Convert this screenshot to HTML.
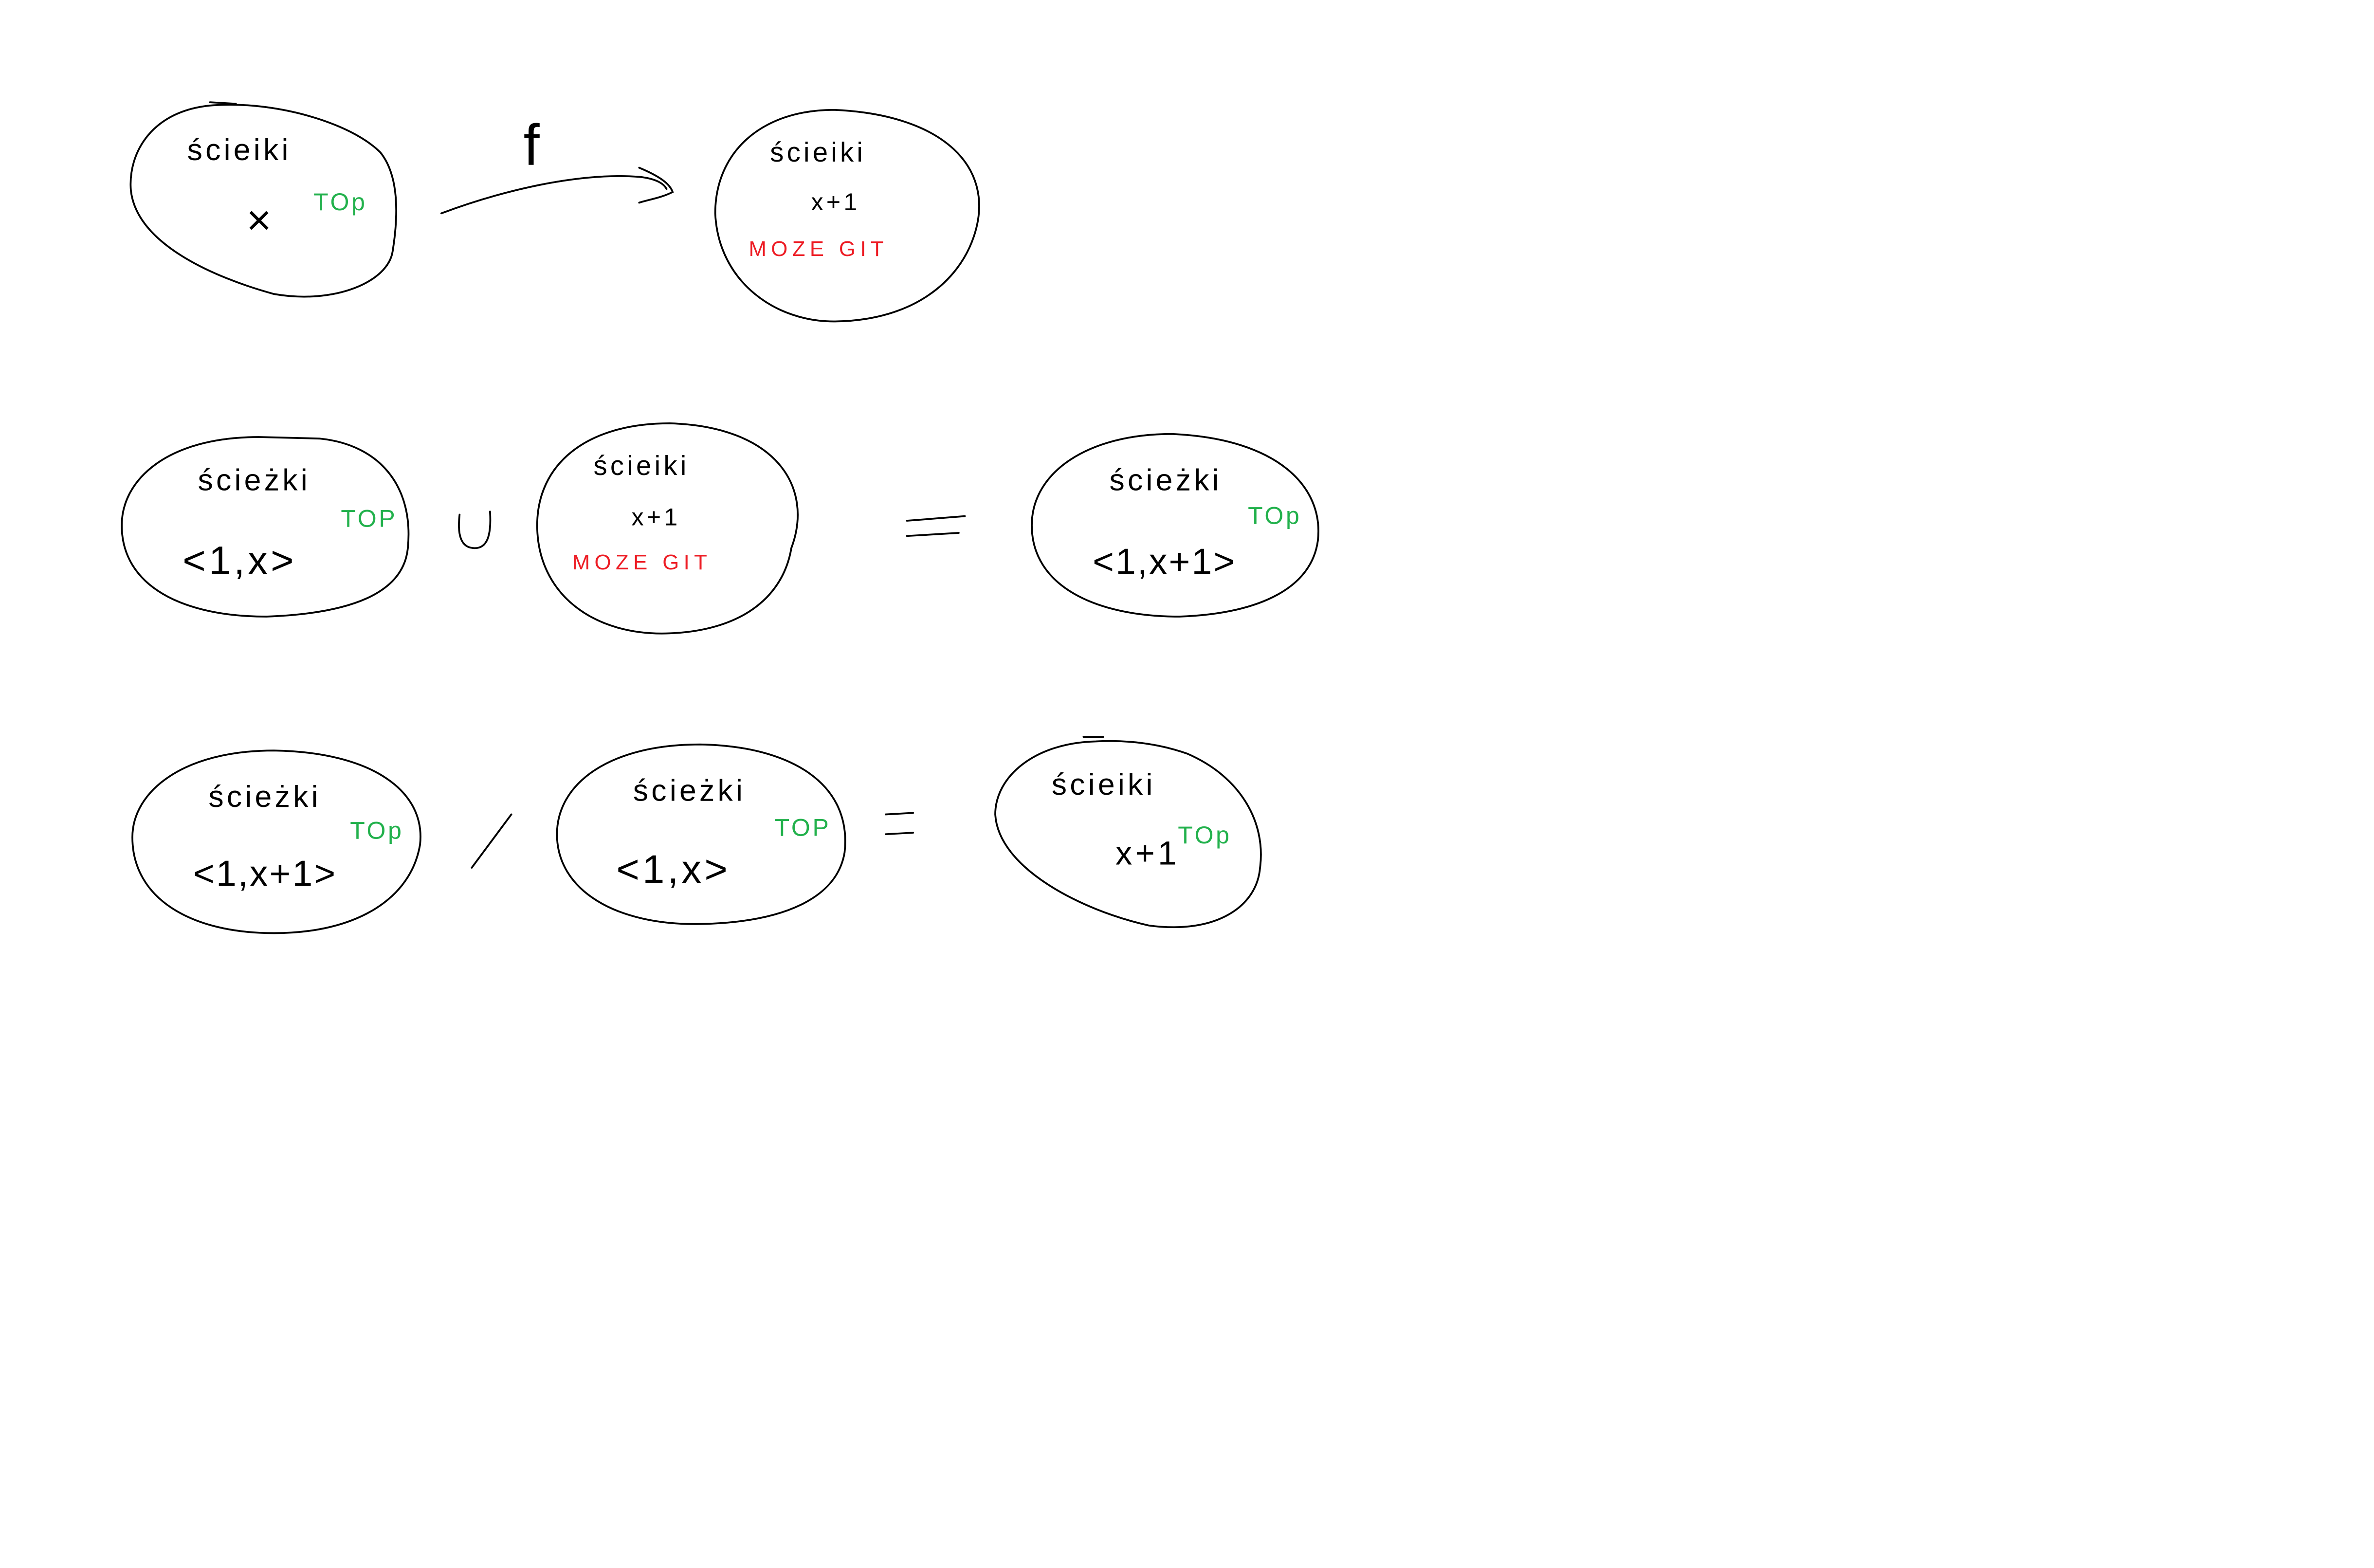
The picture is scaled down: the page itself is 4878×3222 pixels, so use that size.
<!DOCTYPE html>
<html><head><meta charset="utf-8"><style>
html,body{margin:0;padding:0;background:#fff;}
svg{display:block;}
text{font-family:"Liberation Sans",sans-serif;font-weight:normal;}
.k{fill:#000;font-size:20px;letter-spacing:2px;}
.g{fill:#22b14c;font-size:16px;letter-spacing:1.5px;}
.r{fill:#ed1c24;font-size:14px;letter-spacing:3px;}
</style></head><body>
<svg width="4878" height="3222" viewBox="0 0 1560 1030" xmlns="http://www.w3.org/2000/svg">
<g fill="none" stroke="#000" stroke-width="1.2" stroke-linecap="round">
<path d="M140,69 C100,72 84,100 86,125 C90,160 140,182 180,193 C220,200 255,185 258,165 C262,140 262,115 250,100 C230,80 180,66 140,69 Z"/>
<path d="M138,67 L155,68"/>
<path d="M290,140 C330,125 380,113 420,116 C430,117 436,120 438,124"/>
<path d="M420,110 C432,115 440,120 442,126 C434,130 426,131 420,133"/>
<path d="M548,72 C500,72 470,100 470,140 C472,185 510,212 550,211 C600,210 630,185 640,155 C655,110 620,75 548,72 Z"/>
<path d="M170,287 C110,287 80,315 80,345 C80,385 120,405 175,405 C230,403 265,390 268,360 C272,320 250,292 210,288 Z"/>
<path d="M302,338 C300,355 305,360 312,360 C320,360 323,352 322,336"/>
<path d="M440,278 C385,278 353,305 353,345 C353,390 390,418 440,416 C490,414 515,390 520,360 C535,320 510,280 440,278 Z"/>
<path d="M596,342 L634,339 M596,352 L630,350"/>
<path d="M770,285 C715,285 678,310 678,345 C678,385 720,405 775,405 C830,403 862,385 866,355 C870,320 840,288 770,285 Z"/>
<path d="M180,493 C120,493 87,520 87,550 C87,590 125,613 180,613 C235,613 270,590 276,555 C280,520 245,494 180,493 Z"/>
<path d="M310,570 L336,535"/>
<path d="M460,489 C400,489 366,515 366,548 C366,585 405,608 460,607 C515,606 550,590 555,560 C560,515 520,490 460,489 Z"/>
<path d="M582,535 L600,534 M582,548 L600,547"/>
<path d="M720,487 C680,488 654,510 654,535 C656,570 710,598 755,608 C800,614 826,595 828,570 C832,540 815,510 780,495 C760,488 740,486 720,487 Z"/>
<path d="M712,484 L725,484"/>
</g>
<text class="k" x="123" y="105">ścieiki</text>
<text class="k" x="162" y="154" style="font-size:28px">×</text>
<text class="g" x="206" y="138">TOp</text>
<text class="k" x="344" y="108" style="font-size:38px">f</text>
<text class="k" x="506" y="106" style="font-size:18px">ścieiki</text>
<text class="k" x="533" y="138" style="font-size:16px">x+1</text>
<text class="r" x="492" y="168">MOZE GIT</text>
<text class="k" x="130" y="322">ścieżki</text>
<text class="g" x="224" y="346">TOP</text>
<text class="k" x="120" y="377" style="font-size:26px">&lt;1,x&gt;</text>
<text class="k" x="390" y="312" style="font-size:18px">ścieiki</text>
<text class="k" x="415" y="345" style="font-size:16px">x+1</text>
<text class="r" x="376" y="374">MOZE GIT</text>
<text class="k" x="729" y="322">ścieżki</text>
<text class="g" x="820" y="344">TOp</text>
<text class="k" x="718" y="377" style="font-size:24px;letter-spacing:1px">&lt;1,x+1&gt;</text>
<text class="k" x="137" y="530">ścieżki</text>
<text class="g" x="230" y="551">TOp</text>
<text class="k" x="127" y="582" style="font-size:24px;letter-spacing:1px">&lt;1,x+1&gt;</text>
<text class="k" x="416" y="526">ścieżki</text>
<text class="g" x="509" y="549">TOP</text>
<text class="k" x="405" y="580" style="font-size:26px">&lt;1,x&gt;</text>
<text class="k" x="691" y="522">ścieiki</text>
<text class="k" x="733" y="568" style="font-size:22px">x+1</text>
<text class="g" x="774" y="554">TOp</text>
</svg>
</body></html>
